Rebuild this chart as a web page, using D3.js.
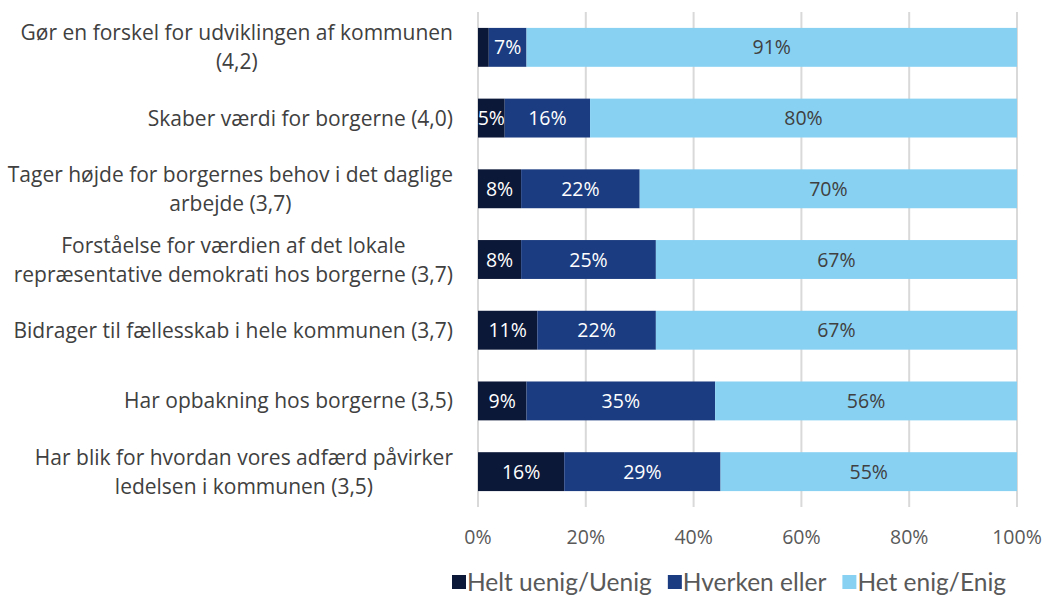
<!DOCTYPE html>
<html>
<head>
<meta charset="utf-8">
<script src="https://cdn.jsdelivr.net/npm/d3@7"></script>
<style>
  body { margin: 0; background: #fff; }
  svg text { font-family: "Open Sans", sans-serif; }
</style>
</head>
<body>
<div id="chart"></div>
<script>
// category labels, one array of lines per bar
var categories = [
    ["Gør en forskel for udviklingen af kommunen", "(4,2)"],
    ["Skaber værdi for borgerne (4,0)"],
    ["Tager højde for borgernes behov i det daglige", "arbejde (3,7)"],
    ["Forståelse for værdien af det lokale", "repræsentative demokrati hos borgerne (3,7)"],
    ["Bidrager til fællesskab i hele kommunen (3,7)"],
    ["Har opbakning hos borgerne (3,5)"],
    ["Har blik for hvordan vores adfærd påvirker", "ledelsen i kommunen (3,5)"]
];
var seriesNames = ["Helt uenig/Uenig", "Hverken eller", "Het enig/Enig"];
var heltUenig = [2, 5, 8, 8, 11, 9, 16];
var hverken = [7, 16, 22, 25, 22, 35, 29];
var enig = [91, 80, 70, 67, 67, 56, 55];
var tickValues = [0, 20, 40, 60, 80, 100];

var colors = ["#0c1838", "#1b3c80", "#88d1f3"];
var labelColors = ["#ffffff", "#ffffff", "#404040"];

var W = 1046, H = 597;
var margin = { top: 12, right: 29, bottom: 90, left: 478 };
var width = W - margin.left - margin.right;
var height = H - margin.top - margin.bottom;

var svg = d3.select("#chart").append("svg")
    .attr("width", W)
    .attr("height", H);

var g = svg.append("g")
    .attr("transform", "translate(" + margin.left + "," + margin.top + ")");

var x = d3.scaleLinear().domain([0, 1]).range([0, width]);
var y = d3.scaleBand()
    .domain(d3.range(categories.length))
    .range([0, height])
    .paddingInner(0.45)
    .paddingOuter(0.225);

// gridlines
g.selectAll(".grid").data(tickValues).enter().append("line")
    .attr("class", "grid")
    .attr("x1", function(d){ return x(d / 100); })
    .attr("x2", function(d){ return x(d / 100); })
    .attr("y1", 0)
    .attr("y2", height)
    .style("stroke", "#d9d9d9")
    .style("stroke-width", 2);

// stack data (100% stacked, rounded values may sum to 101)
var rows = categories.map(function(c, i){
    return { i: i, a: heltUenig[i], b: hverken[i], c: enig[i] };
});
var stack = d3.stack().keys(["a", "b", "c"]).offset(d3.stackOffsetExpand);
var layers = stack(rows);

var layer = g.selectAll(".layer").data(layers).enter().append("g")
    .attr("class", "layer");

layer.selectAll("rect")
    .data(function(d){ return d; })
    .enter().append("rect")
    .attr("x", function(d){ return x(d[0]); })
    .attr("y", function(d){ return y(d.data.i); })
    .attr("width", function(d){ return x(d[1]) - x(d[0]); })
    .attr("height", y.bandwidth())
    .style("fill", function(){ return colors[d3.select(this.parentNode).datum().index]; });

// value labels (segments under 3% not labelled)
layer.each(function(l){
    d3.select(this).selectAll("text")
        .data(l.filter(function(d){ return d.data[l.key] >= 3; }))
        .enter().append("text")
        .attr("x", function(d){ return x((d[0] + d[1]) / 2); })
        .attr("y", function(d){ return y(d.data.i) + y.bandwidth() / 2; })
        .attr("dy", "0.36em")
        .attr("text-anchor", "middle")
        .style("font-size", "19.5px")
        .style("fill", labelColors[l.index])
        .text(function(d){ return d.data[l.key] + "%"; });
});

// category labels, block centered, widest line right-aligned
var lineH = 29;
categories.forEach(function(lines, i){
    var t = g.append("text")
        .attr("text-anchor", "middle")
        .style("font-size", "21px")
        .style("fill", "#404040");
    var cy = y(i) + y.bandwidth() / 2;
    lines.forEach(function(line, k){
        t.append("tspan")
            .attr("y", cy + (k - (lines.length - 1) / 2) * lineH)
            .attr("dy", "0.36em")
            .text(line);
    });
    var w = d3.max(t.selectAll("tspan").nodes(), function(n){ return n.getComputedTextLength(); });
    t.selectAll("tspan").attr("x", -25 - w / 2);
});

// x axis tick labels
g.selectAll(".tick-label").data(tickValues).enter().append("text")
    .attr("class", "tick-label")
    .attr("x", function(d){ return x(d / 100); })
    .attr("y", height + 30)
    .attr("dy", "0.36em")
    .attr("text-anchor", "middle")
    .style("font-size", "19.5px")
    .style("fill", "#595959")
    .text(function(d){ return d + "%"; });

// legend
var legend = svg.append("g").attr("transform", "translate(0," + 582 + ")");
var lx = 452;
seriesNames.forEach(function(name, i){
    legend.append("rect")
        .attr("x", lx)
        .attr("y", -7)
        .attr("width", 14)
        .attr("height", 14)
        .style("fill", colors[i]);
    var t = legend.append("text")
        .attr("x", lx + 15)
        .attr("y", 0)
        .attr("dy", "0.36em")
        .style("font-family", "Lato, sans-serif")
        .style("font-size", "24.5px")
        .style("fill", "#595959")
        .text(name);
    lx += 15 + t.node().getComputedTextLength() + 16;
});
</script>
</body>
</html>
